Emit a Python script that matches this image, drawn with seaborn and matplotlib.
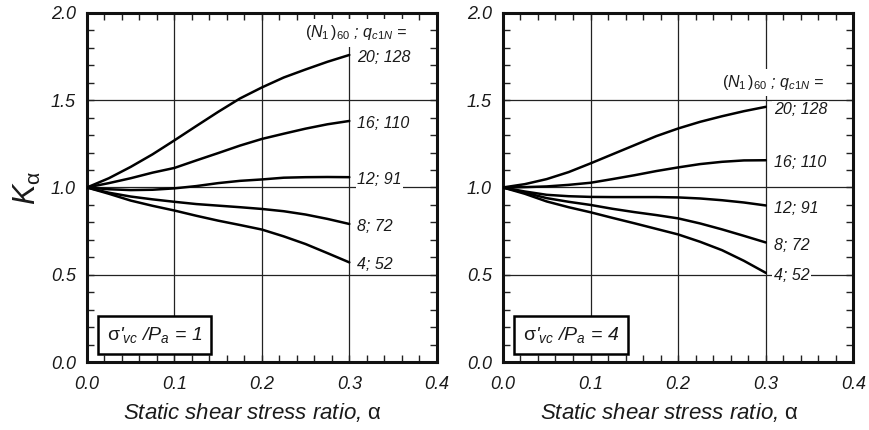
import numpy as np
import pandas as pd
import matplotlib
matplotlib.use("Agg")
import matplotlib.pyplot as plt
from matplotlib.ticker import MultipleLocator, FormatStrFormatter
import seaborn as sns

# ---------------- data ----------------
alpha = [0.0, 0.025, 0.05, 0.075, 0.1, 0.125, 0.15, 0.175, 0.2, 0.225, 0.25, 0.275, 0.3]
series_labels = ["20; 128", "16; 110", "12; 91", "8; 72", "4; 52"]

# sigma'vc/Pa = 1
k_p1_20 = [1.0, 1.053, 1.118, 1.190, 1.270, 1.352, 1.433, 1.510, 1.573, 1.630, 1.676, 1.720, 1.759]
k_p1_16 = [1.0, 1.025, 1.053, 1.085, 1.112, 1.155, 1.197, 1.240, 1.278, 1.308, 1.337, 1.362, 1.381]
k_p1_12 = [1.0, 0.990, 0.985, 0.987, 0.995, 1.008, 1.025, 1.038, 1.046, 1.056, 1.059, 1.060, 1.059]
k_p1_8 = [1.0, 0.970, 0.948, 0.932, 0.918, 0.905, 0.896, 0.887, 0.877, 0.864, 0.845, 0.820, 0.791]
k_p1_4 = [1.0, 0.964, 0.925, 0.895, 0.868, 0.838, 0.810, 0.785, 0.759, 0.720, 0.676, 0.624, 0.571]

# sigma'vc/Pa = 4
k_p4_20 = [1.0, 1.019, 1.048, 1.088, 1.138, 1.190, 1.242, 1.294, 1.338, 1.376, 1.408, 1.437, 1.462]
k_p4_16 = [1.0, 1.002, 1.006, 1.015, 1.027, 1.048, 1.070, 1.094, 1.115, 1.134, 1.147, 1.155, 1.156]
k_p4_12 = [1.0, 0.977, 0.958, 0.950, 0.946, 0.945, 0.945, 0.945, 0.943, 0.937, 0.927, 0.914, 0.897]
k_p4_8 = [1.0, 0.971, 0.939, 0.918, 0.900, 0.878, 0.859, 0.842, 0.823, 0.794, 0.760, 0.723, 0.685]
k_p4_4 = [1.0, 0.964, 0.920, 0.887, 0.858, 0.826, 0.795, 0.763, 0.731, 0.689, 0.641, 0.580, 0.511]

panel_titles = [r"$\mathrm{\sigma}$'$_{vc}$ /$P_a$ = 1", r"$\mathrm{\sigma}$'$_{vc}$ /$P_a$ = 4"]
header_text = r"$(N_{\mathit{1}}\,)_{\mathit{60}}$ ; $q_{c\mathit{1}N}$ ="
x_label = r"Static shear stress ratio, $\mathrm{\alpha}$"
y_label = r"$K_{\mathrm{\alpha}}$"

panels = [
    [k_p1_20, k_p1_16, k_p1_12, k_p1_8, k_p1_4],
    [k_p4_20, k_p4_16, k_p4_12, k_p4_8, k_p4_4],
]
header_pos = [(0.249, 1.885), (0.2496, 1.60)]

# ---------------- style ----------------
sns.set_style("ticks")
plt.rcParams["font.family"] = ["Liberation Sans", "DejaVu Sans"]
plt.rcParams["mathtext.fontset"] = "custom"
plt.rcParams["mathtext.rm"] = "Liberation Sans"
plt.rcParams["mathtext.it"] = "Liberation Sans:italic"
plt.rcParams["mathtext.default"] = "it"

fig = plt.figure(figsize=(8.7, 4.3), dpi=100)
axes = [fig.add_axes([0.100, 0.158, 0.402, 0.812]),
        fig.add_axes([0.578, 0.158, 0.403, 0.812])]

text_col = "#1a1a1a"

for i, ax in enumerate(axes):
    rows = []
    for lab, vals in zip(series_labels, panels[i]):
        for a, k in zip(alpha, vals):
            rows.append({"alpha": a, "K": k, "series": lab})
    df = pd.DataFrame(rows)
    sns.lineplot(data=df, x="alpha", y="K", hue="series", hue_order=series_labels,
                 palette=["black"] * len(series_labels), linewidth=1.8,
                 legend=False, ax=ax, zorder=4)

    ax.set_xlim(0, 0.4)
    ax.set_ylim(0, 2.0)
    ax.xaxis.set_major_locator(MultipleLocator(0.1))
    ax.xaxis.set_minor_locator(MultipleLocator(0.02))
    ax.yaxis.set_major_locator(MultipleLocator(0.5))
    ax.yaxis.set_minor_locator(MultipleLocator(0.1))
    ax.xaxis.set_major_formatter(FormatStrFormatter("%.1f"))
    ax.yaxis.set_major_formatter(FormatStrFormatter("%.1f"))
    ax.tick_params(which="both", direction="in", top=True, right=True,
                   width=1.0, color="#222222")
    ax.tick_params(which="major", length=5, labelsize=13, labelcolor=text_col)
    ax.tick_params(axis="x", which="major", pad=10)
    ax.tick_params(axis="y", which="major", pad=8)
    ax.tick_params(which="minor", length=5)
    for lbl in ax.get_xticklabels() + ax.get_yticklabels():
        lbl.set_fontstyle("italic")
    ax.grid(True, which="major", color="#222222", linewidth=0.9)
    ax.set_axisbelow(True)
    for sp in ax.spines.values():
        sp.set_linewidth(2.2)
        sp.set_color("#111111")
        sp.set_visible(True)

    ax.set_xlabel(x_label, fontsize=16, style="italic", color=text_col)
    ax.xaxis.set_label_coords(0.474, -0.112)
    if i == 0:
        ax.set_ylabel(y_label, fontsize=22, color=text_col, labelpad=6)
    else:
        ax.set_ylabel("")

    # curve-end labels
    for lab, vals in zip(series_labels, panels[i]):
        ax.text(alpha[-1] + 0.009, vals[-1] - 0.015, lab, fontsize=11.5, style="italic",
                color=text_col, ha="left", va="center", zorder=5,
                bbox=dict(facecolor="white", edgecolor="none", pad=1.0))

    hx, hy = header_pos[i]
    ax.text(hx, hy, header_text, fontsize=11.5, style="italic", color=text_col,
            ha="left", va="center", zorder=5,
            bbox=dict(facecolor="white", edgecolor="none", pad=3.0))

    ax.text(0.057, 0.077, panel_titles[i], transform=ax.transAxes, fontsize=14,
            style="italic", color=text_col, ha="left", va="center", zorder=6,
            bbox=dict(boxstyle="square,pad=0.45", facecolor="white",
                      edgecolor="black", linewidth=1.8))

fig.savefig("out.png", dpi=100)
